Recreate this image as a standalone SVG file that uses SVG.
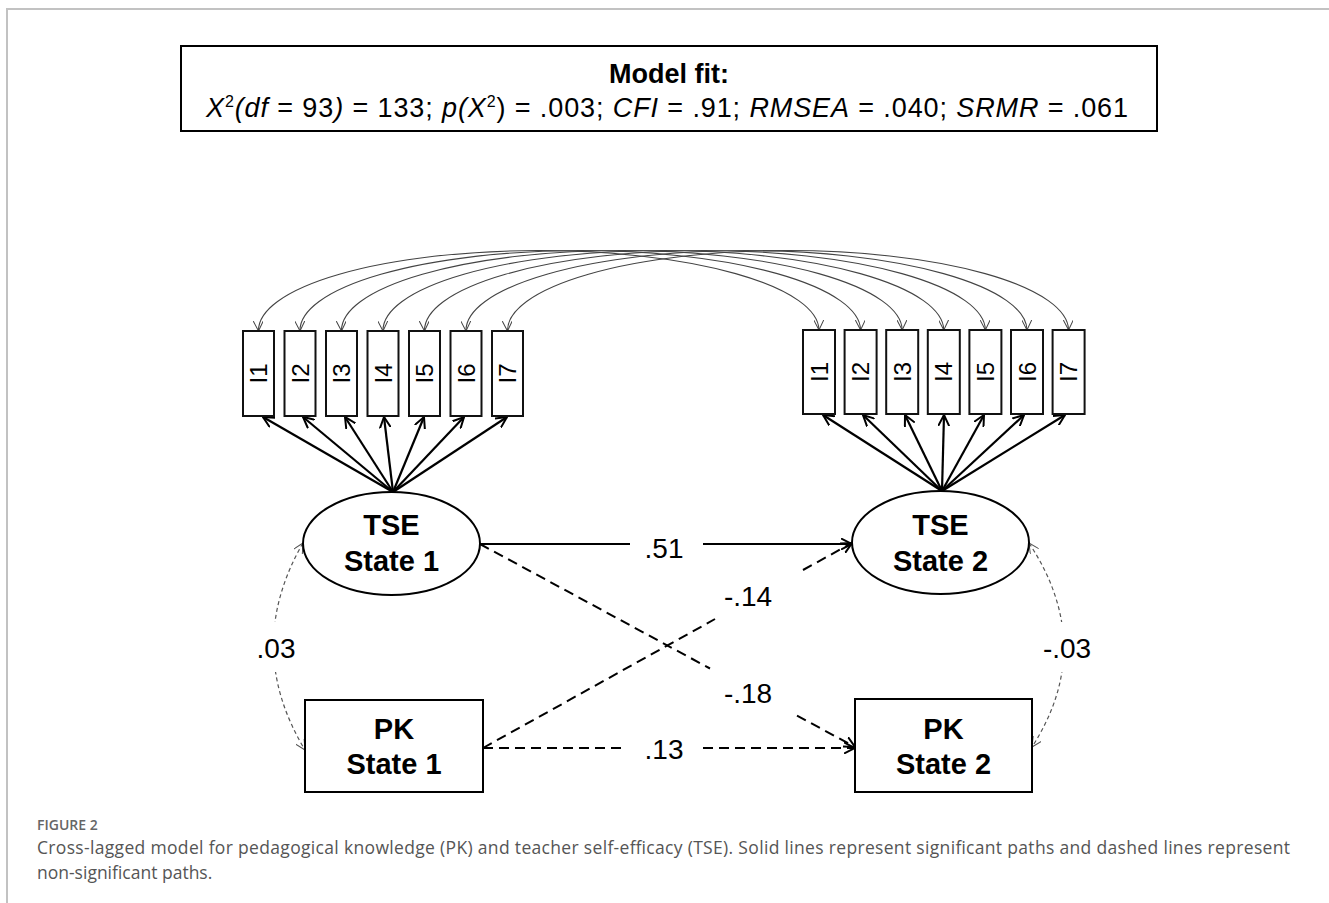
<svg xmlns="http://www.w3.org/2000/svg" width="1329" height="903" viewBox="0 0 1329 903">
<defs>
<style>
.t{font-family:"Liberation Sans",Arial,Helvetica,sans-serif;fill:#000}
.b{font-weight:bold}
.cap{font-family:"Open Sans","Noto Sans","Liberation Sans",sans-serif}
.node{fill:#fff;stroke:#000;stroke-width:2}
.ind{fill:#fff;stroke:#111;stroke-width:2}
.load{stroke:#000;stroke-width:2.2;fill:none;marker-end:url(#arr)}
.sol{stroke:#000;stroke-width:2;fill:none}
.dash{stroke:#000;stroke-width:2;fill:none;stroke-dasharray:10 6}
.cov{stroke:#555;stroke-width:1.2;fill:none;stroke-dasharray:4 3}
.arc{stroke:#444;stroke-width:1.1;fill:none;marker-start:url(#arrT);marker-end:url(#arrT)}
.lbl{font-size:28px;text-anchor:middle}
.ilbl{font-size:24px;text-anchor:middle}
.nl{font-size:29px;text-anchor:middle;font-weight:bold}
</style>
<marker id="arr" viewBox="0 0 12 12" refX="11" refY="6" markerWidth="12" markerHeight="12" markerUnits="userSpaceOnUse" orient="auto">
<path d="M0,0.5 L11,6 L0,11.5" fill="none" stroke="#000" stroke-width="2"/>
</marker>
<marker id="arrT" viewBox="0 0 10 10" refX="10" refY="5" markerWidth="10" markerHeight="10" markerUnits="userSpaceOnUse" orient="auto-start-reverse">
<path d="M0,0 L10,5 L0,10" fill="none" stroke="#444" stroke-width="1"/>
</marker>
<marker id="arrC" viewBox="0 0 10 10" refX="10" refY="5" markerWidth="10" markerHeight="10" markerUnits="userSpaceOnUse" orient="auto-start-reverse">
<path d="M0,0 L10,5 L0,10" fill="none" stroke="#555" stroke-width="1"/>
</marker>
</defs>
<rect width="1329" height="903" fill="#fff"/>
<path d="M7,903 L7,9 L1329,9" fill="none" stroke="#c2c2c2" stroke-width="2"/>

<g id="model-fit">
<rect x="181" y="46" width="976" height="85" fill="#fff" stroke="#000" stroke-width="2"/>
<text class="t b" x="669" y="83" font-size="27" text-anchor="middle">Model fit:</text>
<text class="t" x="206" y="117" font-size="27" textLength="922" lengthAdjust="spacing"><tspan font-style="italic">X</tspan><tspan font-size="16" dy="-10">2</tspan><tspan dy="10" font-style="italic">(df</tspan> = 93<tspan font-style="italic">)</tspan> = 133; <tspan font-style="italic">p(X</tspan><tspan font-size="16" dy="-10">2</tspan><tspan dy="10">)</tspan> = .003; <tspan font-style="italic">CFI</tspan> = .91; <tspan font-style="italic">RMSEA</tspan> = .040; <tspan font-style="italic">SRMR</tspan> = .061</text>
</g>

<g id="connectors">
<g id="item-covariances">
<path class="arc" d="M258.5,331 A280.25,80 0 0 1 819,330"/>
<path class="arc" d="M300,331 A280.3,80 0 0 1 860.6,330"/>
<path class="arc" d="M341.5,331 A280.35,80 0 0 1 902.2,330"/>
<path class="arc" d="M383,331 A280.4,80 0 0 1 943.8,330"/>
<path class="arc" d="M424.5,331 A280.45,80 0 0 1 985.4,330"/>
<path class="arc" d="M466,331 A280.5,80 0 0 1 1027,330"/>
<path class="arc" d="M507.5,331 A280.55,80 0 0 1 1068.6,330"/>
</g>
<g id="loadings-1">
<path class="load" d="M393,492 L263,417"/>
<path class="load" d="M393,492 L303,417"/>
<path class="load" d="M393,492 L345,417"/>
<path class="load" d="M393,492 L384,417"/>
<path class="load" d="M393,492 L424,417"/>
<path class="load" d="M393,492 L464,417"/>
<path class="load" d="M393,492 L507,417"/>
</g>
<g id="loadings-2">
<path class="load" d="M942,491 L823,415"/>
<path class="load" d="M942,491 L863,415"/>
<path class="load" d="M942,491 L905,415"/>
<path class="load" d="M942,491 L944,415"/>
<path class="load" d="M942,491 L984,415"/>
<path class="load" d="M942,491 L1024,415"/>
<path class="load" d="M942,491 L1065,415"/>
</g>
<g id="paths">
<path class="sol" d="M480,544 L630,544"/>
<path class="sol" d="M703,544 L852,544" marker-end="url(#arr)"/>
<path class="dash" d="M480,544 L710,668.5"/>
<path class="dash" d="M797,715.6 L855,747" marker-end="url(#arr)"/>
<path class="dash" d="M483,748 L715,619"/>
<path class="dash" d="M803,570 L852,543" marker-end="url(#arr)"/>
<path class="dash" d="M483,748 L627,748"/>
<path class="dash" d="M703,748 L855,748" marker-end="url(#arr)"/>
<path class="cov" d="M303,543 Q243,647 305,750" marker-start="url(#arrC)" marker-end="url(#arrC)"/>
<path class="cov" d="M1029,543 Q1097,646 1032,747" marker-start="url(#arrC)" marker-end="url(#arrC)"/>
</g>
<g id="path-labels">
<text class="t lbl" x="664" y="558">.51</text>
<text class="t lbl" x="748" y="606">-.14</text>
<text class="t lbl" x="748" y="703">-.18</text>
<text class="t lbl" x="664" y="759">.13</text>
<rect x="250" y="622" width="52" height="50" fill="#fff"/>
<text class="t lbl" x="276" y="658">.03</text>
<rect x="1038" y="622" width="58" height="50" fill="#fff"/>
<text class="t lbl" x="1067" y="658">-.03</text>
</g>
</g>

<g id="tse1-items">
<g id="tse1-i1"><rect class="ind" x="243" y="331" width="31" height="85"/><text class="t ilbl" transform="translate(258.5,373.5) rotate(-90)" y="8.5">I1</text></g>
<g id="tse1-i2"><rect class="ind" x="284.5" y="331" width="31" height="85"/><text class="t ilbl" transform="translate(300,373.5) rotate(-90)" y="8.5">I2</text></g>
<g id="tse1-i3"><rect class="ind" x="326" y="331" width="31" height="85"/><text class="t ilbl" transform="translate(341.5,373.5) rotate(-90)" y="8.5">I3</text></g>
<g id="tse1-i4"><rect class="ind" x="367.5" y="331" width="31" height="85"/><text class="t ilbl" transform="translate(383,373.5) rotate(-90)" y="8.5">I4</text></g>
<g id="tse1-i5"><rect class="ind" x="409" y="331" width="31" height="85"/><text class="t ilbl" transform="translate(424.5,373.5) rotate(-90)" y="8.5">I5</text></g>
<g id="tse1-i6"><rect class="ind" x="450.5" y="331" width="31" height="85"/><text class="t ilbl" transform="translate(466,373.5) rotate(-90)" y="8.5">I6</text></g>
<g id="tse1-i7"><rect class="ind" x="492" y="331" width="31" height="85"/><text class="t ilbl" transform="translate(507.5,373.5) rotate(-90)" y="8.5">I7</text></g>
</g>
<g id="tse2-items">
<g id="tse2-i1"><rect class="ind" x="803" y="330" width="32" height="84"/><text class="t ilbl" transform="translate(819,372) rotate(-90)" y="8.5">I1</text></g>
<g id="tse2-i2"><rect class="ind" x="844.6" y="330" width="32" height="84"/><text class="t ilbl" transform="translate(860.6,372) rotate(-90)" y="8.5">I2</text></g>
<g id="tse2-i3"><rect class="ind" x="886.2" y="330" width="32" height="84"/><text class="t ilbl" transform="translate(902.2,372) rotate(-90)" y="8.5">I3</text></g>
<g id="tse2-i4"><rect class="ind" x="927.8" y="330" width="32" height="84"/><text class="t ilbl" transform="translate(943.8,372) rotate(-90)" y="8.5">I4</text></g>
<g id="tse2-i5"><rect class="ind" x="969.4" y="330" width="32" height="84"/><text class="t ilbl" transform="translate(985.4,372) rotate(-90)" y="8.5">I5</text></g>
<g id="tse2-i6"><rect class="ind" x="1011" y="330" width="32" height="84"/><text class="t ilbl" transform="translate(1027,372) rotate(-90)" y="8.5">I6</text></g>
<g id="tse2-i7"><rect class="ind" x="1052.6" y="330" width="32" height="84"/><text class="t ilbl" transform="translate(1068.6,372) rotate(-90)" y="8.5">I7</text></g>
</g>

<g id="tse-state-1">
<ellipse class="node" cx="391.5" cy="543.5" rx="88.5" ry="51.5"/>
<text class="t nl" x="391.5" y="535">TSE</text>
<text class="t nl" x="391.5" y="571">State 1</text>
</g>
<g id="tse-state-2">
<ellipse class="node" cx="940.5" cy="542.5" rx="88.5" ry="51.5"/>
<text class="t nl" x="940.5" y="535">TSE</text>
<text class="t nl" x="940.5" y="571">State 2</text>
</g>
<g id="pk-state-1">
<rect class="node" x="305" y="700" width="178" height="92"/>
<text class="t nl" x="394" y="739">PK</text>
<text class="t nl" x="394" y="774">State 1</text>
</g>
<g id="pk-state-2">
<rect class="node" x="855" y="699" width="177" height="93"/>
<text class="t nl" x="943.5" y="739">PK</text>
<text class="t nl" x="943.5" y="774">State 2</text>
</g>

<g id="caption">
<text class="cap" x="37" y="830" font-size="14" font-weight="600" fill="#666">FIGURE 2</text>
<text class="cap" x="37" y="854" font-size="17.5" fill="#555" textLength="1253" lengthAdjust="spacing">Cross-lagged model for pedagogical knowledge (PK) and teacher self-efficacy (TSE). Solid lines represent significant paths and dashed lines represent</text>
<text class="cap" x="37" y="879" font-size="17.5" fill="#555">non-significant paths.</text>
</g>
</svg>
